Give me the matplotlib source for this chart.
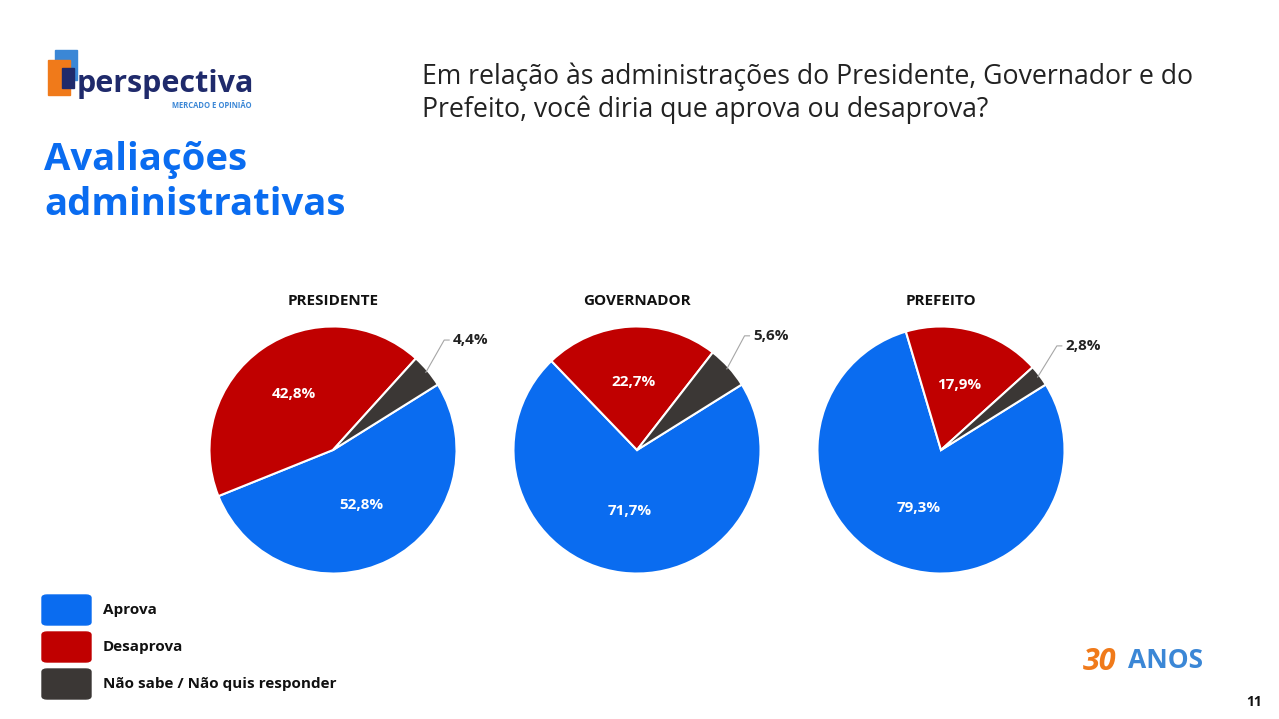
import matplotlib
matplotlib.use("Agg")
import matplotlib.pyplot as plt
from matplotlib.patches import Rectangle, FancyBboxPatch
import numpy as np

titles = ["PRESIDENTE", "GOVERNADOR", "PREFEITO"]
aprova = [52.8, 71.7, 79.3]
desaprova = [42.8, 22.7, 17.9]
nao_sabe = [4.4, 5.6, 2.8]
legend_labels = ["Aprova", "Desaprova", "Não sabe / Não quis responder"]
colors = ["#0A6CF0", "#C00000", "#3B3735"]

BF = ['Open Sans', 'DejaVu Sans']
plt.rcParams['font.family'] = BF
fig = plt.figure(figsize=(12.79, 7.19), dpi=100)
W, H = 1279, 719

def ax_px(x, y, w, h):
    return fig.add_axes([x / W, 1 - (y + h) / H, w / W, h / H])

centers = [333, 637, 941]
R = 126
for i, cx in enumerate(centers):
    ax = ax_px(cx - R, 450 - R, 2 * R, 2 * R)
    vals = [aprova[i], desaprova[i], nao_sabe[i]]
    ax.pie(vals, colors=colors, startangle=32, counterclock=False,
           wedgeprops=dict(edgecolor="white", linewidth=1.5), radius=1)
    ax.set_xlim(-1.02, 1.02); ax.set_ylim(-1.02, 1.02)
    ang = 32
    for j, v in enumerate(vals):
        mid = np.deg2rad(ang - v * 3.6 / 2)
        ang -= v * 3.6
        txt = f"{v:.1f}".replace(".", ",") + "%"
        if j < 2:
            r = 0.5 if j == 0 else 0.55
            ax.text(r * np.cos(mid), r * np.sin(mid), txt, ha="center", va="center",
                    color="white", fontsize=11, fontweight="bold")
        else:
            x0, y0 = 0.98 * np.cos(mid), 0.98 * np.sin(mid)
            x1, y1 = 1.2 * np.cos(mid), 1.2 * np.sin(mid)
            ax.plot([x0, x1 - 0.02, x1 + 0.02], [y0, y1 + 0.12, y1 + 0.12], color="#A6A6A6",
                    lw=0.8, clip_on=False)
            ax.text(x1 + 0.05, y1 + 0.12, txt, ha="left", va="center", color="#222222",
                    fontsize=11, fontweight="bold", clip_on=False)
    fig.text(cx / W, 1 - 301 / H, titles[i], ha="center", va="center",
             fontsize=11, fontweight="bold", color="#111111")

fig.text(44 / W, 1 - 160 / H, "Avaliações", fontsize=27.5, fontweight="bold",
         color="#0A6CF0", va="center")
fig.text(44 / W, 1 - 205 / H, "administrativas", fontsize=27.5, fontweight="bold",
         color="#0A6CF0", va="center")
fig.text(422 / W, 1 - 77 / H, "Em relação às administrações do Presidente, Governador e do",
         fontsize=19.2, color="#222222", va="center")
fig.text(422 / W, 1 - 110 / H, "Prefeito, você diria que aprova ou desaprova?",
         fontsize=19.2, color="#222222", va="center")

# logo
fig.patches.append(Rectangle((55 / W, 1 - 80 / H), 22 / W, 30 / H, transform=fig.transFigure,
                             color="#3B87D6"))
fig.patches.append(Rectangle((48 / W, 1 - 95 / H), 22 / W, 35 / H, transform=fig.transFigure,
                             color="#F07A1A"))
fig.patches.append(Rectangle((62 / W, 1 - 88 / H), 12 / W, 20 / H, transform=fig.transFigure,
                             color="#1F2A6B"))
fig.text(77 / W, 1 - 84 / H, "perspectiva", fontsize=22, fontweight="bold",
         color="#1F2A6B", va="center")
fig.text(252 / W, 1 - 105 / H, "MERCADO E OPINIÃO", fontsize=5.5, color="#3B87D6",
         ha="right", va="center", fontweight="bold")

# legend
for k, (lab, c) in enumerate(zip(legend_labels, colors)):
    y = 610 + k * 37
    fig.patches.append(FancyBboxPatch((42 / W, 1 - (y + 15) / H), 49 / W, 30 / H,
                                      boxstyle="round,pad=0,rounding_size=0.004",
                                      transform=fig.transFigure, color=c))
    fig.text(103 / W, 1 - y / H, lab, fontsize=11, fontweight="bold", color="#111111",
             va="center")

fig.text(1083 / W, 1 - 662 / H, "30", fontsize=22, fontweight="bold", color="#F07A1A",
         va="center", style="italic")
fig.text(1128 / W, 1 - 660 / H, "ANOS", fontsize=19, fontweight="bold", color="#3B87D6",
         va="center")
fig.text(1262 / W, 1 - 702 / H, "11", fontsize=10, fontweight="bold", color="#111111",
         ha="right", va="center")

fig.savefig("out.png", dpi=100, facecolor="white")
